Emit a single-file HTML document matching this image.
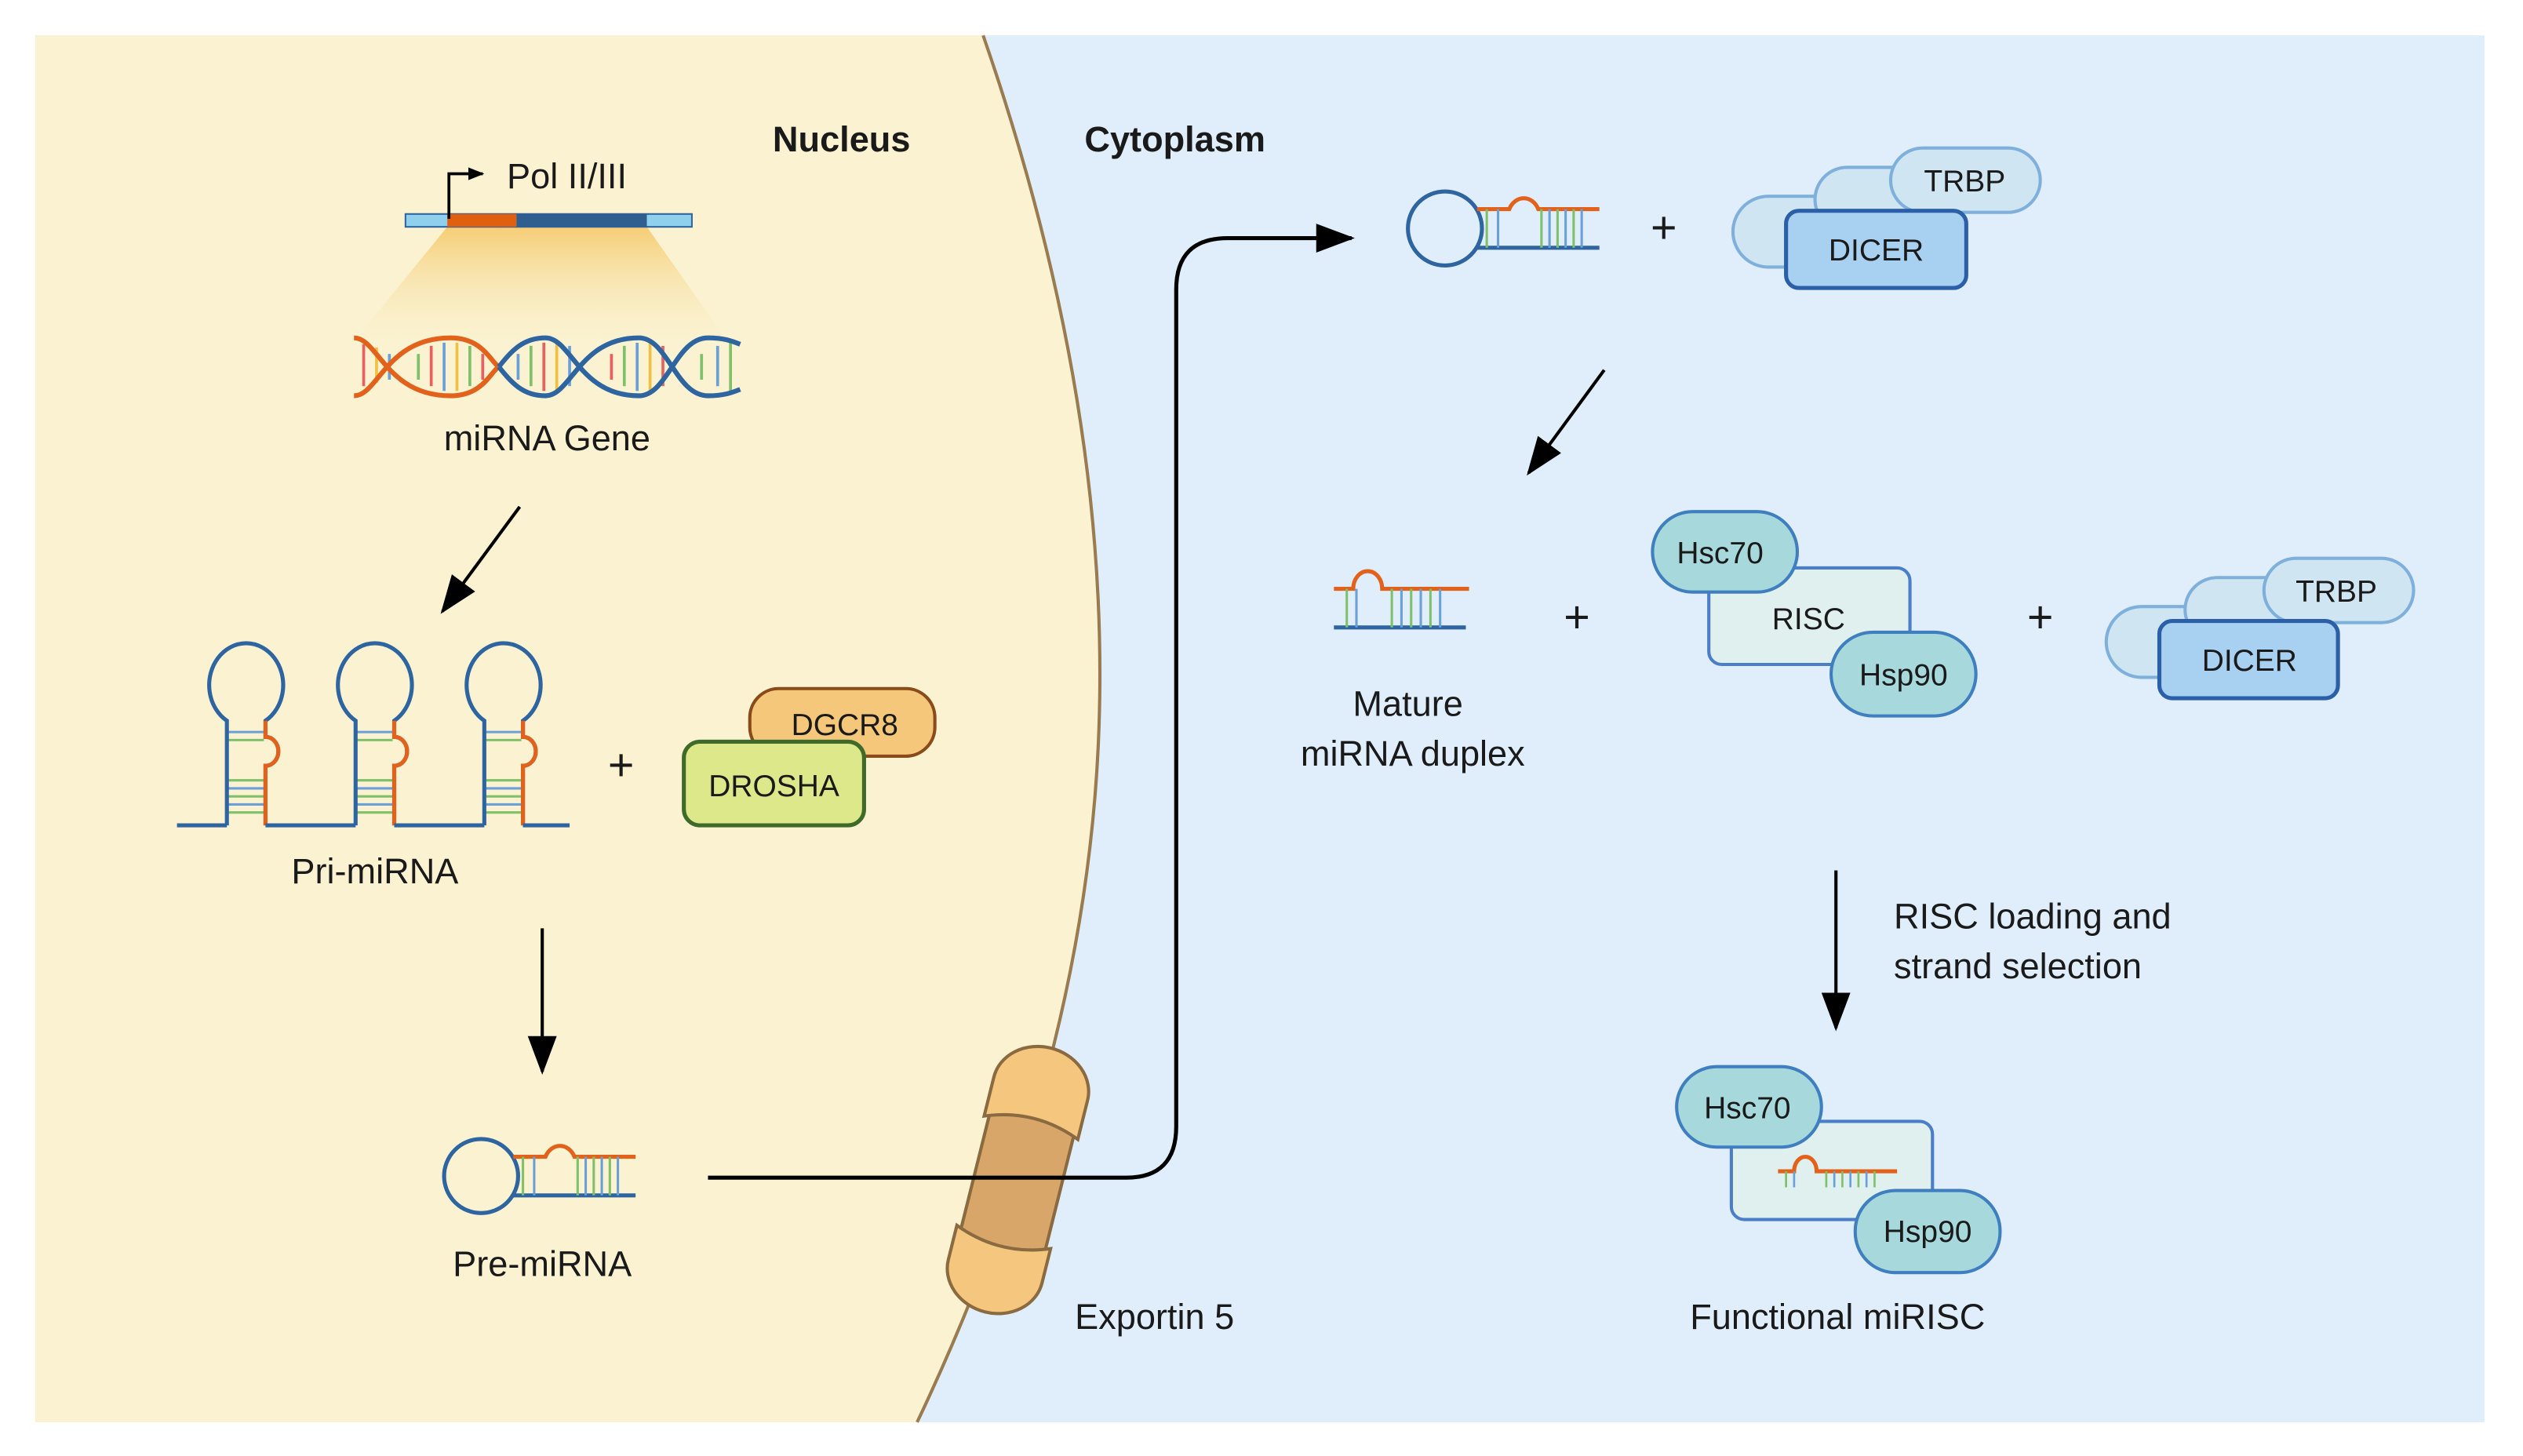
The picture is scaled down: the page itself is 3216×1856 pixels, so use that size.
<!DOCTYPE html>
<html><head><meta charset="utf-8"><style>html,body{margin:0;padding:0;background:#fff}svg{display:block}text{font-family:"Liberation Sans",sans-serif;fill:#1a1a1a}</style></head><body>
<svg width="3216" height="1856" viewBox="0 0 1568 905" preserveAspectRatio="none" xmlns="http://www.w3.org/2000/svg">
<defs>
<linearGradient id="g1" x1="0" y1="0" x2="0" y2="1"><stop offset="0" stop-color="#f5c96a" stop-opacity="0.9"/><stop offset="1" stop-color="#faf2d0" stop-opacity="0.2"/></linearGradient>
<marker id="ah" markerWidth="10" markerHeight="10" refX="9" refY="5" orient="auto" markerUnits="userSpaceOnUse" viewBox="0 0 10 10"><path d="M0,1 L10,5 L0,9 Z" fill="#000"/></marker>
<marker id="ahb" markerWidth="24" markerHeight="18" refX="22" refY="9" orient="auto" markerUnits="userSpaceOnUse"><path d="M0,0 L24,9 L0,18 Z" fill="#000"/></marker>
<g id="hp">
<circle cx="0" cy="0" r="23" fill="none" stroke="#2e64a0" stroke-width="2.5"/>
<path d="M20,-12 L40,-12 A10,12 0 0 1 58,-12 L96,-12" fill="none" stroke="#e2621b" stroke-width="2.5"/>
<path d="M20,12 L96,12" fill="none" stroke="#2e64a0" stroke-width="2.5"/>
<g stroke-width="1.5"><line x1="26" y1="-12" x2="26" y2="12" stroke="#7fc06a"/><line x1="33" y1="-12" x2="33" y2="12" stroke="#6aa0d8"/><line x1="60" y1="-12" x2="60" y2="12" stroke="#7fc06a"/><line x1="65" y1="-12" x2="65" y2="12" stroke="#6aa0d8"/><line x1="70" y1="-12" x2="70" y2="12" stroke="#7fc06a"/><line x1="75" y1="-12" x2="75" y2="12" stroke="#6aa0d8"/><line x1="80" y1="-12" x2="80" y2="12" stroke="#7fc06a"/><line x1="85" y1="-12" x2="85" y2="12" stroke="#6aa0d8"/></g>
</g>
<g id="dup">
<path d="M0,-12 L12,-12 A9,11 0 0 1 30,-12 L84,-12" fill="none" stroke="#e2621b" stroke-width="2.5"/>
<path d="M0,12 L82,12" fill="none" stroke="#2e64a0" stroke-width="2.5"/>
<g stroke-width="1.5"><line x1="8" y1="-12" x2="8" y2="12" stroke="#7fc06a"/><line x1="14" y1="-12" x2="14" y2="12" stroke="#6aa0d8"/><line x1="36" y1="-12" x2="36" y2="12" stroke="#7fc06a"/><line x1="42" y1="-12" x2="42" y2="12" stroke="#6aa0d8"/><line x1="48" y1="-12" x2="48" y2="12" stroke="#7fc06a"/><line x1="54" y1="-12" x2="54" y2="12" stroke="#6aa0d8"/><line x1="60" y1="-12" x2="60" y2="12" stroke="#7fc06a"/><line x1="66" y1="-12" x2="66" y2="12" stroke="#6aa0d8"/></g>
</g>
</defs>
<rect x="0" y="0" width="1568" height="905" fill="#fff"/>
<rect x="22" y="22" width="1522" height="862" fill="#dfeefa"/>
<path d="M22,22 L611,22 Q690,250 683,452 Q676,660 570,884 L22,884 Z" fill="#faf2d0"/>
<path d="M611,22 Q690,250 683,452 Q676,660 570,884" fill="none" stroke="#9a7b50" stroke-width="2"/>

<text x="523" y="94" font-size="22" font-weight="bold" text-anchor="middle">Nucleus</text>
<text x="674" y="94" font-size="22" font-weight="bold">Cytoplasm</text>

<!-- gene -->
<polygon points="278,141 402,141 452,212 220,212" fill="url(#g1)"/>
<rect x="252" y="133" width="178" height="8" fill="#8fd0ec" stroke="#2e64a0" stroke-width="1"/>
<rect x="278" y="133" width="43" height="8" fill="#e0600f"/>
<rect x="321" y="133" width="81" height="8" fill="#2f5f8e"/>
<path d="M279,136 L279,108 L300,108" fill="none" stroke="#000" stroke-width="1.8" marker-end="url(#ah)"/>
<text x="315" y="117" font-size="22">Pol II/III</text>
<!-- DNA -->
<g stroke-width="1.8">
<line x1="226" y1="214" x2="226" y2="240" stroke="#e86060"/><line x1="234" y1="216" x2="234" y2="238" stroke="#f0c040"/><line x1="242" y1="220" x2="242" y2="236" stroke="#6aa0d8"/><line x1="260" y1="220" x2="260" y2="236" stroke="#7fc06a"/><line x1="268" y1="215" x2="268" y2="240" stroke="#e86060"/><line x1="276" y1="213" x2="276" y2="243" stroke="#6aa0d8"/><line x1="284" y1="213" x2="284" y2="243" stroke="#f0c040"/><line x1="292" y1="215" x2="292" y2="240" stroke="#7fc06a"/><line x1="300" y1="220" x2="300" y2="236" stroke="#e86060"/><line x1="322" y1="220" x2="322" y2="236" stroke="#6aa0d8"/><line x1="330" y1="215" x2="330" y2="240" stroke="#7fc06a"/><line x1="338" y1="213" x2="338" y2="243" stroke="#e86060"/><line x1="346" y1="213" x2="346" y2="243" stroke="#f0c040"/><line x1="354" y1="215" x2="354" y2="240" stroke="#6aa0d8"/><line x1="380" y1="220" x2="380" y2="236" stroke="#e86060"/><line x1="388" y1="215" x2="388" y2="240" stroke="#7fc06a"/><line x1="396" y1="213" x2="396" y2="243" stroke="#6aa0d8"/><line x1="404" y1="213" x2="404" y2="243" stroke="#f0c040"/><line x1="412" y1="215" x2="412" y2="240" stroke="#e86060"/><line x1="436" y1="220" x2="436" y2="236" stroke="#7fc06a"/><line x1="446" y1="215" x2="446" y2="240" stroke="#6aa0d8"/><line x1="454" y1="213" x2="454" y2="243" stroke="#7fc06a"/>
</g>
<path d="M220,246 C235,246 240,210 280,210 C300,210 305,225 310,228" fill="none" stroke="#e2621b" stroke-width="3"/>
<path d="M220,210 C235,210 240,246 280,246 C300,246 305,231 310,228" fill="none" stroke="#e2621b" stroke-width="3"/>
<path d="M310,228 C318,218 325,210 339,210 C355,210 360,246 397,246 C415,246 420,210 440,210 C450,210 455,212 460,214" fill="none" stroke="#2e64a0" stroke-width="3"/>
<path d="M310,228 C318,238 325,246 339,246 C355,246 360,210 397,210 C415,210 420,246 440,246 C450,246 455,244 460,242" fill="none" stroke="#2e64a0" stroke-width="3"/>
<text x="340" y="280" font-size="22" text-anchor="middle">miRNA Gene</text>
<line x1="323" y1="315" x2="275" y2="380" stroke="#000" stroke-width="2" marker-end="url(#ahb)"/>

<!-- pri-miRNA -->
<g id="prihp">
<g stroke-width="1.5"><line x1="141" y1="455" x2="164" y2="455" stroke="#6aa0d8"/><line x1="141" y1="460" x2="164" y2="460" stroke="#7fc06a"/><line x1="141" y1="485" x2="164" y2="485" stroke="#7fc06a"/><line x1="141" y1="490" x2="164" y2="490" stroke="#6aa0d8"/><line x1="141" y1="495" x2="164" y2="495" stroke="#7fc06a"/><line x1="141" y1="500" x2="164" y2="500" stroke="#6aa0d8"/><line x1="141" y1="505" x2="164" y2="505" stroke="#7fc06a"/></g>
<path d="M141,513 L141,448 A23,26 0 1 1 165,448 L165,458 A8,9 0 0 1 165,476 L165,513" fill="none" stroke="#2e64a0" stroke-width="2.5"/>
<path d="M165,448 L165,458 A8,9 0 0 1 165,476 L165,513" fill="none" stroke="#e2621b" stroke-width="2.5"/>
</g>
<use href="#prihp" x="80"/>
<use href="#prihp" x="160"/>
<path d="M110,513 L141,513 M165,513 L221,513 M245,513 L301,513 M325,513 L354,513" stroke="#2e64a0" stroke-width="2.5"/>
<text x="386" y="485" font-size="28" text-anchor="middle">+</text>
<rect x="466" y="428" width="115" height="42" rx="18" fill="#f5c77a" stroke="#8a4a1a" stroke-width="2"/>
<text x="525" y="457" font-size="19" text-anchor="middle">DGCR8</text>
<rect x="425" y="461" width="112" height="52" rx="10" fill="#dde88a" stroke="#3f6b2a" stroke-width="2.5"/>
<text x="481" y="495" font-size="19" text-anchor="middle">DROSHA</text>
<text x="233" y="549" font-size="22" text-anchor="middle">Pri-miRNA</text>
<line x1="337" y1="577" x2="337" y2="666" stroke="#000" stroke-width="2" marker-end="url(#ahb)"/>

<!-- pre-miRNA -->
<use href="#hp" x="299" y="731"/>
<text x="337" y="793" font-size="22" text-anchor="middle">Pre-miRNA</text>

<!-- exportin -->
<g transform="rotate(14 633 732)">
<rect x="606" y="680" width="54" height="104" fill="#d9a66a" stroke="#8a6a40" stroke-width="2"/>
<path d="M603,700 L603,675 A30,26 0 0 1 663,675 L663,700 Q633,688 603,700 Z" fill="#f5c67e" stroke="#8a6a40" stroke-width="2"/>
<path d="M603,770 Q633,782 663,770 L663,792 A30,26 0 0 1 603,792 Z" fill="#f5c67e" stroke="#8a6a40" stroke-width="2"/>
</g>
<text x="668" y="826" font-size="22">Exportin 5</text>

<path d="M440,732 L700,732 Q731,732 731,700 L731,180 Q731,148 763,148 L840,148" fill="none" stroke="#000" stroke-width="2.5" marker-end="url(#ahb)"/>

<!-- cytoplasm top -->
<use href="#hp" x="898" y="142"/>
<text x="1034" y="151" font-size="28" text-anchor="middle">+</text>
<rect x="1077" y="122" width="110" height="44" rx="22" fill="#cfe6f2" stroke="#7fb0dc" stroke-width="2"/>
<rect x="1128" y="104" width="90" height="40" rx="20" fill="#cfe6f2" stroke="#7fb0dc" stroke-width="2"/>
<rect x="1175" y="92" width="93" height="40" rx="20" fill="#cfe6f2" stroke="#7fb0dc" stroke-width="2"/>
<text x="1221" y="119" font-size="19" text-anchor="middle">TRBP</text>
<rect x="1110" y="131" width="112" height="48" rx="8" fill="#a8d0f0" stroke="#2b5fa8" stroke-width="2.5"/>
<text x="1166" y="162" font-size="19" text-anchor="middle">DICER</text>

<line x1="997" y1="230" x2="950" y2="294" stroke="#000" stroke-width="2" marker-end="url(#ahb)"/>

<use href="#dup" x="829" y="378"/>
<text x="875" y="445" font-size="22" text-anchor="middle">Mature</text>
<text x="878" y="476" font-size="22" text-anchor="middle">miRNA duplex</text>
<text x="980" y="393" font-size="28" text-anchor="middle">+</text>

<rect x="1062" y="353" width="125" height="60" rx="8" fill="#dff0ee" stroke="#4a7ec8" stroke-width="2"/>
<rect x="1027" y="318" width="90" height="50" rx="25" fill="#a7d8dc" stroke="#3f7fc0" stroke-width="2"/>
<text x="1069" y="350" font-size="19" text-anchor="middle">Hsc70</text>
<text x="1124" y="391" font-size="19" text-anchor="middle">RISC</text>
<rect x="1138" y="393" width="90" height="52" rx="26" fill="#a7d8dc" stroke="#3f7fc0" stroke-width="2"/>
<text x="1183" y="426" font-size="19" text-anchor="middle">Hsp90</text>
<text x="1268" y="393" font-size="28" text-anchor="middle">+</text>

<rect x="1309" y="377" width="110" height="44" rx="22" fill="#cfe6f2" stroke="#7fb0dc" stroke-width="2"/>
<rect x="1358" y="359" width="90" height="40" rx="20" fill="#cfe6f2" stroke="#7fb0dc" stroke-width="2"/>
<rect x="1407" y="347" width="93" height="40" rx="20" fill="#cfe6f2" stroke="#7fb0dc" stroke-width="2"/>
<text x="1452" y="374" font-size="19" text-anchor="middle">TRBP</text>
<rect x="1342" y="386" width="111" height="48" rx="8" fill="#a8d0f0" stroke="#2b5fa8" stroke-width="2.5"/>
<text x="1398" y="417" font-size="19" text-anchor="middle">DICER</text>

<line x1="1141" y1="541" x2="1141" y2="639" stroke="#000" stroke-width="2" marker-end="url(#ahb)"/>
<text x="1177" y="577" font-size="22">RISC loading and</text>
<text x="1177" y="608" font-size="22">strand selection</text>

<rect x="1076" y="697" width="125" height="61" rx="8" fill="#dff0ee" stroke="#4a7ec8" stroke-width="2"/>
<rect x="1042" y="663" width="90" height="50" rx="25" fill="#a7d8dc" stroke="#3f7fc0" stroke-width="2"/>
<text x="1086" y="695" font-size="19" text-anchor="middle">Hsc70</text>
<rect x="1153" y="740" width="90" height="51" rx="25" fill="#a7d8dc" stroke="#3f7fc0" stroke-width="2"/>
<text x="1198" y="772" font-size="19" text-anchor="middle">Hsp90</text>
<g transform="translate(1105,728)">
<path d="M0,0 L10,0 A7,9 0 0 1 24,0 L74,0" fill="none" stroke="#e2621b" stroke-width="2.5"/>
<g stroke-width="1.3"><line x1="5" y1="0" x2="5" y2="10" stroke="#7fc06a"/><line x1="10" y1="0" x2="10" y2="10" stroke="#6aa0d8"/><line x1="30" y1="0" x2="30" y2="10" stroke="#7fc06a"/><line x1="35" y1="0" x2="35" y2="10" stroke="#6aa0d8"/><line x1="40" y1="0" x2="40" y2="10" stroke="#7fc06a"/><line x1="45" y1="0" x2="45" y2="10" stroke="#6aa0d8"/><line x1="50" y1="0" x2="50" y2="10" stroke="#7fc06a"/><line x1="55" y1="0" x2="55" y2="10" stroke="#6aa0d8"/><line x1="60" y1="0" x2="60" y2="10" stroke="#7fc06a"/></g>
</g>
<text x="1142" y="826" font-size="22" text-anchor="middle">Functional miRISC</text>
</svg>
</body></html>
